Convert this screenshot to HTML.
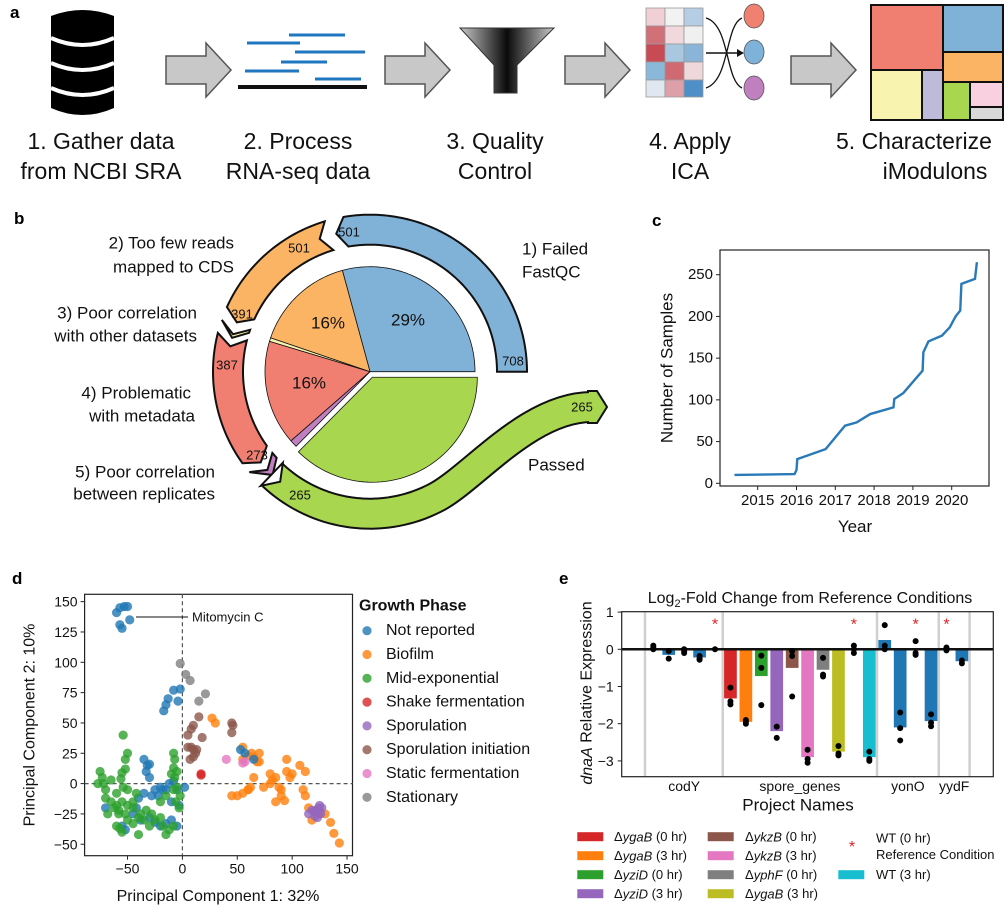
<!DOCTYPE html>
<html><head><meta charset="utf-8"><style>
html,body{margin:0;padding:0;background:#fff;}
svg{display:block;font-family:"Liberation Sans",Arial,sans-serif;}
</style></head><body>
<svg id="fig" width="1007" height="905" viewBox="0 0 1007 905" xmlns="http://www.w3.org/2000/svg">
<defs>
<linearGradient id="fg" x1="0" x2="1" y1="0" y2="0"><stop offset="0" stop-color="#c8c8c8"/><stop offset="0.5" stop-color="#0a0a0a"/><stop offset="1" stop-color="#c8c8c8"/></linearGradient>
</defs>
<g>
<text x="10" y="18" font-size="17" font-weight="bold">a</text>
<g>
<path d="M51 16 Q82.5 4 114 16 L114 108 Q82.5 122 51 108 Z" fill="#000"/>
<path d="M51 38 Q82.5 52 114 38" stroke="#fff" stroke-width="4" fill="none"/>
<path d="M51 63 Q82.5 77 114 63" stroke="#fff" stroke-width="4" fill="none"/>
<path d="M51 88 Q82.5 102 114 88" stroke="#fff" stroke-width="4" fill="none"/>
</g>
<g stroke="#1f77c0" stroke-width="3">
<line x1="289" y1="35" x2="345" y2="35"/><line x1="247" y1="43" x2="300" y2="43"/><line x1="295" y1="52" x2="365" y2="52"/><line x1="281" y1="62" x2="327" y2="62"/><line x1="245" y1="71" x2="299" y2="71"/><line x1="315" y1="79" x2="361" y2="79"/>
<line x1="238" y1="87" x2="367" y2="87" stroke="#111" stroke-width="4"/>
</g>
<polygon points="460,28 554,28 517,65 517,93 494,93 494,65" fill="url(#fg)" stroke="#333" stroke-width="1"/>
<g stroke="#999" stroke-width="0.8">
<rect x="646" y="8" width="19" height="18" fill="#f0d0d4"/><rect x="665" y="8" width="19" height="18" fill="#f2f2f2"/><rect x="684" y="8" width="19" height="18" fill="#b5cde5"/>
<rect x="646" y="26" width="19" height="18" fill="#d27078"/><rect x="665" y="26" width="19" height="18" fill="#f0d8dc"/><rect x="684" y="26" width="19" height="18" fill="#f0f0f0"/>
<rect x="646" y="44" width="19" height="18" fill="#c84a55"/><rect x="665" y="44" width="19" height="18" fill="#a9c8e0"/><rect x="684" y="44" width="19" height="18" fill="#8ab5d8"/>
<rect x="646" y="62" width="19" height="18" fill="#8ab8d8"/><rect x="665" y="62" width="19" height="18" fill="#d06a72"/><rect x="684" y="62" width="19" height="18" fill="#efd8dc"/>
<rect x="646" y="80" width="19" height="17" fill="#dfe8f0"/><rect x="665" y="80" width="19" height="17" fill="#dda0a8"/><rect x="684" y="80" width="19" height="17" fill="#4e8fc8"/>
<path d="M706 18 C730 25 725 80 742 88" stroke="#111" stroke-width="1.3" fill="none"/>
<path d="M706 88 C730 80 725 25 742 18" stroke="#111" stroke-width="1.3" fill="none"/>
<line x1="706" y1="53" x2="740" y2="53" stroke="#111" stroke-width="1.5"/>
<polygon points="744,53 737,49 737,57" fill="#111" stroke="none"/>
<ellipse cx="754" cy="16" rx="10" ry="12" fill="#f08070" stroke="#555"/>
<ellipse cx="754" cy="52" rx="10" ry="12" fill="#7fb2d8" stroke="#555"/>
<ellipse cx="754" cy="88" rx="10" ry="12" fill="#c080c0" stroke="#555"/>
</g>
<g stroke="#111" stroke-width="2">
<rect x="871" y="5" width="72" height="65" fill="#f07f72"/><rect x="943" y="5" width="60" height="47" fill="#80b1d6"/>
<rect x="943" y="52" width="60" height="30" fill="#fbb463"/><rect x="871" y="70" width="51" height="50" fill="#f8f4b0"/>
<rect x="922" y="70" width="21" height="50" fill="#bebad9"/><rect x="943" y="82" width="27" height="38" fill="#a8d64e"/>
<rect x="970" y="82" width="33" height="25" fill="#f8d0e0"/><rect x="970" y="107" width="33" height="13" fill="#d9d9d9"/>
</g>
<g fill="#c8c8c8" stroke="#555" stroke-width="1.5">
<polygon points="166,56 206,56 206,43 231,70 206,97 206,84 166,84"/>
<polygon points="385,56 425,56 425,43 450,70 425,97 425,84 385,84"/>
<polygon points="565,56 605,56 605,43 630,70 605,97 605,84 565,84"/>
<polygon points="791,56 831,56 831,43 856,70 831,97 831,84 791,84"/>
</g>
<g font-size="23" fill="#111" text-anchor="middle">
<text x="101" y="149">1. Gather data</text><text x="101" y="179">from NCBI SRA</text>
<text x="298" y="149">2. Process</text><text x="298" y="179">RNA-seq data</text>
<text x="495" y="149">3. Quality</text><text x="495" y="179">Control</text>
<text x="690" y="149">4. Apply</text><text x="690" y="179">ICA</text>
<text x="836" y="149" text-anchor="start">5. Characterize</text><text x="935" y="179">iModulons</text>
</g>
</g>
<g id="pb">
<text x="14" y="224" font-size="17" font-weight="bold">b</text>
<g font-size="17" fill="#111" dominant-baseline="central">
<text x="234" y="243" text-anchor="end">2) Too few reads</text><text x="234" y="267" text-anchor="end">mapped to CDS</text>
<text x="197" y="313" text-anchor="end">3) Poor correlation</text><text x="197" y="336" text-anchor="end">with other datasets</text>
<text x="191" y="393" text-anchor="end">4) Problematic</text><text x="195" y="416" text-anchor="end">with metadata</text>
<text x="215" y="472" text-anchor="end">5) Poor correlation</text><text x="215" y="494" text-anchor="end">between replicates</text>
<text x="522" y="249">1) Failed</text><text x="522" y="272">FastQC</text>
<text x="528" y="465">Passed</text>
</g>
</g>
<g id="pc">
<text x="652" y="226" font-size="17" font-weight="bold">c</text>
</g>
<g id="pd">
<text x="12" y="584" font-size="17" font-weight="bold">d</text>
</g>
<g id="pe">
<text x="559" y="584" font-size="17" font-weight="bold">e</text>
</g>
</svg>
<script>
const NS='http://www.w3.org/2000/svg';
function mk(tag,attrs,parent){const e=document.createElementNS(NS,tag);for(const k in attrs)e.setAttribute(k,attrs[k]);parent.appendChild(e);return e;}

const qcStages=['failed-fastqc','too-few-reads','poor-correlation-datasets','problematic-metadata','poor-correlation-replicates','passed'];
const qcCounts=[207,110,4,114,8,265];
const qcRemaining=[708,501,391,387,273,265];
const qcPctLabels=['29%','16%','','16%','',''];
const pieColors=['#80b1d6','#fbb463','#f8f4b0','#f07f72','#c080c0','#a8d64e'];

const sampleYears=[2014.4,2015.95,2016.0,2016.02,2016.75,2017.25,2017.55,2017.9,2018.5,2018.52,2018.75,2019.25,2019.27,2019.4,2019.75,2019.95,2020.1,2020.22,2020.25,2020.6,2020.65];
const sampleCounts=[10,11,16,29,41,69,73,83,91,101,108,135,157,170,177,187,200,207,239,245,265];
const yearTicks=[2015,2016,2017,2018,2019,2020];
const sampleTicks=[0,50,100,150,200,250];

const phaseNames=['Not reported','Biofilm','Mid-exponential','Shake fermentation','Sporulation','Sporulation initiation','Static fermentation','Stationary'];
const notReportedX=[-57,-53,-50,-60,-57,-55,-48,-13,-15,-17,-8,-4,-2,-35,-32,-30,-33,-30,-25,-20,-15,-22,-28,-35,-40,-42,-45,-38,-30,-25,-20,-15,-10,-5,-55,-52,-70,-10,-5,-3,2,53,57,65,-18,-12,-8];
const notReportedY=[145,146,146,141,131,128,135,70,65,60,77,68,78,20,15,16,10,5,-5,-3,-5,-10,-10,-8,-12,-20,-25,-30,-28,-32,-35,-33,-30,-35,-35,-38,-20,-15,-5,-18,-3,28,25,20,-5,0,2];
const biofilmX=[27,30,55,60,63,65,68,70,95,107,112,95,98,100,85,80,82,88,90,85,93,110,112,74,65,60,62,55,50,45,70,115,118,125,130,135,138,143,55,60,80,90];
const biofilmY=[54,50,30,23,25,22,18,18,20,15,10,10,5,8,5,8,3,-3,-10,-15,-14,-5,-10,-3,5,-5,-3,-8,-10,-10,25,-20,-30,-25,-25,-32,-41,-49,20,-5,0,-5];
const midExpX=[-54,-50,-52,-52,-55,-56,-54,-50,-75,-73,-77,-72,-70,-65,-60,-65,-62,-60,-58,-55,-58,-52,-50,-60,-57,-55,-45,-40,-38,-40,-35,-30,-25,-20,-18,-15,-12,-8,-8,-7,-8,-10,-5,-7,-5,-2,-3,-6,-42,-45,-70,-68,-15,-20,-8,-28,-33,-45,-50];
const midExpY=[40,25,20,12,9,4,-3,-5,10,5,0,0,-5,3,-8,-15,-20,-18,-22,-15,-25,-25,-30,-35,-37,-40,-33,-28,-25,-42,-30,-35,-30,-28,-35,-42,-38,-35,25,20,13,8,10,5,-3,-10,-20,-15,-8,-15,-12,-25,-10,-15,-5,-25,-22,-20,-18];
const shakeX=[17,17];
const shakeY=[7,8];
const sporX=[115,118,120,122,124,125,126,123,121,125,127];
const sporY=[-25,-22,-23,-22,-20,-18,-25,-28,-27,-22,-20];
const sporInitX=[15,10,8,5,18,45,45,46,8,10,12,7,10,13,5];
const sporInitY=[55,48,45,40,38,50,42,48,30,28,25,20,22,28,30];
const staticX=[40,55,57];
const staticY=[20,17,18];
const stationaryX=[-2,3,7,15,21];
const stationaryY=[99,90,85,68,74];
const pcXTicks=[-50,0,50,100,150];
const pcYTicks=[-50,-25,0,25,50,75,100,125,150];

const projectNames=['codY','spore_genes','yonO','yydF'];
const projectCenters=[2,9.5,16.5,19.5];
const barValues=[0.03,-0.15,-0.02,-0.22,null,-1.32,-1.95,-0.72,-2.2,-0.5,-2.9,-0.55,-2.75,null,-2.9,0.25,-2.1,null,-1.93,null,-0.32];
const replicateValues=[[0.1,0.0,0.05],[-0.05,-0.25],[0.0,-0.05,-0.1],[-0.18,-0.25,-0.28],[0.0],[-1.03,-1.4,-1.48],[-1.9,-1.95,-2.0],[-0.17,-0.5,-1.5],[-2.08,-2.38],[-0.05,-0.18,-1.27],[-2.7,-2.95,-3.05],[-0.23,-0.68,-0.73],[-2.6,-2.8,-2.85],[0.1,0.0,-0.1],[-2.75,-2.95,-3.0],[0.65,0.1,0.0],[-1.7,-2.12,-2.45],[0.22,-0.1,-0.15],[-1.75,-1.97,-2.07],[0.05,0.0,-0.03],[-0.3,-0.38]];
const starSlots=[4,13,17,19];
const starValue=0.7;
const exprTicks=[1,0,-1,-2,-3];
const separatorSlots=[-0.54,4.5,14.5,18.5,20.5];

const fig=document.getElementById('fig');

(function(){
  const g=document.getElementById('pb');
  const cx=370,cy=371.7,R=105;
  const P=(a,r)=>[cx+r*Math.cos(a*Math.PI/180),cy-r*Math.sin(a*Math.PI/180)];
  const total=qcCounts.reduce((s,v)=>s+v,0);
  let acc=0;const bounds=[];
  qcCounts.forEach(v=>{const a0=acc/total*360;acc+=v;bounds.push([a0,acc/total*360]);});
  bounds.forEach((b,i)=>{
    const [a0,a1]=b;const mid=(a0+a1)/2;
    const off=i===5?6:0;const ox=off*Math.cos(mid*Math.PI/180),oy=-off*Math.sin(mid*Math.PI/180);
    let d=`M${cx+ox} ${cy+oy}`;
    for(let a=a0;a<=a1+0.001;a+=Math.max(0.2,(a1-a0)/60)){const p=P(a,R);d+=` L${p[0]+ox} ${p[1]+oy}`;}
    const pe=P(a1,R);d+=` L${pe[0]+ox} ${pe[1]+oy} Z`;
    const s=mk('path',{d:d,fill:pieColors[i],stroke:'#111','stroke-width':0.8},g);
    
    
  });
  const pctPos=[[408,320],[328,323],null,[309,383],null,[398,433]];
  qcPctLabels.forEach((t,i)=>{if(!t)return;
    const tx=mk('text',{x:pctPos[i][0],y:pctPos[i][1],'font-size':17,'text-anchor':'middle','dominant-baseline':'central',fill:'#111'},g);
    tx.textContent=t;
    
    
  });
  const ri=127,ro=157,rm=142,dl=4,gap=1.5;
  for(let i=0;i<5;i++){
    let a0=bounds[i][0]+(i?gap:0),a1=bounds[i][1]-gap;
    if(i===2){a0=bounds[i][0]+1;a1=bounds[i][1]+1.5;}
    if(i===3){a0=bounds[i][0]+2.5;}
    let pts=[];
    for(let a=a0;a<=a1-dl+0.01;a+=1)pts.push(P(a,ro));
    pts.push(P(a1-dl,ro));pts.push(P(a1,rm));pts.push(P(a1-dl,ri));
    for(let a=a1-dl;a>=a0;a-=1)pts.push(P(a,ri));
    pts.push(P(a0,ri));
    if(i>0)pts.push(P(a0+dl,rm));
    const band=mk('polygon',{points:pts.map(p=>p.join(',')).join(' '),fill:pieColors[i],stroke:'#111','stroke-width':2,'stroke-linejoin':'miter'},g);
    
    
  }
  const gs=bounds[5][0]+gap;
  let d='';const s0=P(gs,rm);d=`M${s0[0]} ${s0[1]}`;
  for(let a=gs;a<=300;a+=2){const p=P(a,rm);d+=` L${p[0]} ${p[1]}`;}
  const e0=P(300,rm);
  d+=` C${e0[0]+35} ${e0[1]-20} 530 407 592 407`;
  const gOut=mk('path',{d:d,fill:'none',stroke:'#111','stroke-width':32},g);
  
  
  const head=mk('polygon',{points:'588,391 597,391 607,407 597,423 588,423',fill:pieColors[5],stroke:'#111','stroke-width':2},g);
  
  
  const gIn=mk('path',{d:d,fill:'none',stroke:pieColors[5],'stroke-width':28},g);
  
  
  const notch=mk('polygon',{points:[P(gs-0.5,ro+1),P(gs+dl,rm),P(gs-0.5,ri-1)].map(p=>p.join(',')).join(' '),fill:'#fff',stroke:'#111','stroke-width':2},g);
  
  
  const numPos=[[[349,232],[513,361]],[[299,248],[242,314]],[],[[227,365],[257,455]],[],[[300,495],[582,407]]];
  const numVals=[[qcRemaining[1],qcRemaining[0]],[qcRemaining[1],qcRemaining[2]],[],[qcRemaining[3],qcRemaining[4]],[],[qcRemaining[5],qcRemaining[5]]];
  numPos.forEach((arr,i)=>arr.forEach((p,j)=>{
    const t=mk('text',{x:p[0],y:p[1],'font-size':13,'text-anchor':'middle','dominant-baseline':'central',fill:'#111'},g);
    t.textContent=numVals[i][j];
    
    
  }));
})();

(function(){
  const g=document.getElementById('pc');
  const L=720,Rr=989,T=250,B=486;
  const xC=y=>757.7+(y-2015)*38.8, yC=v=>483.3-v*0.8344;
  const box=mk('rect',{x:L,y:T,width:Rr-L,height:B-T,fill:'none',stroke:'#222','stroke-width':1.2},g);
  
  
  yearTicks.forEach(y=>{
    const tk=mk('line',{x1:xC(y),x2:xC(y),y1:B,y2:B+4,stroke:'#222'},g);
    
    
    const t=mk('text',{x:xC(y),y:B+19,'font-size':15,'text-anchor':'middle',fill:'#111'},g);t.textContent=y;
    
    
  });
  sampleTicks.forEach(v=>{
    const tk=mk('line',{x1:L-4,x2:L,y1:yC(v),y2:yC(v),stroke:'#222'},g);
    
    
    const t=mk('text',{x:L-7,y:yC(v),'font-size':15,'text-anchor':'end','dominant-baseline':'central',fill:'#111'},g);t.textContent=v;
    
    
  });
  const pl=mk('polyline',{points:sampleYears.map((y,i)=>xC(y)+','+yC(sampleCounts[i])).join(' '),fill:'none',stroke:'#2a7ab8','stroke-width':2.4},g);
  
  
  const xl=mk('text',{x:855,y:532,'font-size':17,'text-anchor':'middle',fill:'#111'},g);xl.textContent='Year';
  
  
  const yl=mk('text',{x:0,y:0,'font-size':17,'text-anchor':'middle','dominant-baseline':'central',fill:'#111',transform:'translate(667,368) rotate(-90)'},g);yl.textContent='Number of Samples';
  
  
})();

(function(){
  const g=document.getElementById('pd');
  const L=84.6,Rr=352.5,T=594.3,B=855.7;
  const xD=v=>182.4+v*1.0975, yD=v=>783.6-v*1.213;
  const box=mk('rect',{x:L,y:T,width:Rr-L,height:B-T,fill:'none',stroke:'#222','stroke-width':1.2},g);
  
  
  const vl=mk('line',{x1:xD(0),x2:xD(0),y1:T,y2:B,stroke:'#555','stroke-dasharray':'4,3','stroke-width':1.2},g);
  
  
  const hl=mk('line',{x1:L,x2:Rr,y1:yD(0),y2:yD(0),stroke:'#555','stroke-dasharray':'4,3','stroke-width':1.2},g);
  
  
  pcXTicks.forEach(v=>{
    const tk=mk('line',{x1:xD(v),x2:xD(v),y1:B,y2:B+4,stroke:'#222'},g);
    
    
    const t=mk('text',{x:xD(v),y:B+18,'font-size':14,'text-anchor':'middle',fill:'#111'},g);t.textContent=v<0?'\u2212'+(-v):v;
    
    
  });
  pcYTicks.forEach(v=>{
    const tk=mk('line',{x1:L-4,x2:L,y1:yD(v),y2:yD(v),stroke:'#222'},g);
    
    
    const t=mk('text',{x:L-7,y:yD(v),'font-size':14,'text-anchor':'end','dominant-baseline':'central',fill:'#111'},g);t.textContent=v<0?'\u2212'+(-v):v;
    
    
  });
  const colors=['#1f77b4','#ff7f0e','#2ca02c','#d62728','#9467bd','#8c564b','#e377c2','#7f7f7f'];
  const groups=[[notReportedX,notReportedY],[biofilmX,biofilmY],[midExpX,midExpY],[shakeX,shakeY],[sporX,sporY],[sporInitX,sporInitY],[staticX,staticY],[stationaryX,stationaryY]];
  const order=[1,0,2,5,7,6,3,4];
  order.forEach(gi=>{
    const [xs,ys]=groups[gi];
    xs.forEach((x,i)=>{
      const c=mk('circle',{cx:xD(x),cy:yD(ys[i]),r:4.6,fill:colors[gi],'fill-opacity':0.8},g);
      
      
    });
  });
  const ml=mk('line',{x1:136,x2:188,y1:617,y2:617,stroke:'#111','stroke-width':1},g);
  
  
  const mt=mk('text',{x:192,y:617,'font-size':13,'dominant-baseline':'central',fill:'#111'},g);mt.textContent='Mitomycin C';
  
  
  const lt=mk('text',{x:359,y:606,'font-size':16,'font-weight':'bold','dominant-baseline':'central',fill:'#111'},g);lt.textContent='Growth Phase';
  
  
  phaseNames.forEach((n,i)=>{
    const y=630.7+i*23.8;
    const c=mk('circle',{cx:367,cy:y,r:4.6,fill:colors[i],'fill-opacity':0.8},g);
    
    
    const t=mk('text',{x:386,y:y,'font-size':16,'dominant-baseline':'central',fill:'#111'},g);t.textContent=n;
    
    
  });
  const xl=mk('text',{x:218,y:901,'font-size':16,'text-anchor':'middle',fill:'#111'},g);xl.textContent='Principal Component 1: 32%';
  
  
  const yl=mk('text',{x:0,y:0,'font-size':16,'text-anchor':'middle','dominant-baseline':'central',fill:'#111',transform:'translate(30,725) rotate(-90)'},g);yl.textContent='Principal Component 2: 10%';
  
  
})();

(function(){
  const g=document.getElementById('pe');
  const L=621.7,Rr=993.3,T=611.7,B=776.7;
  const xE=i=>653.3+i*15.43, yE=v=>649.3-v*37.2;
  separatorSlots.forEach(s=>{
    const l=mk('line',{x1:xE(s),x2:xE(s),y1:T,y2:B,stroke:'#d0d0d0','stroke-width':2.5},g);
    
    
  });
  const barColors=['#1f77b4','#1f77b4','#1f77b4','#1f77b4',null,'#d62728','#ff7f0e','#2ca02c','#9467bd','#8c564b','#e377c2','#7f7f7f','#bcbd22',null,'#17becf','#1f77b4','#1f77b4',null,'#1f77b4',null,'#1f77b4'];
  barValues.forEach((v,i)=>{
    if(v===null)return;
    const y0=yE(0),y1=yE(v);
    const r=mk('rect',{x:xE(i)-6.35,y:Math.min(y0,y1),width:12.7,height:Math.abs(y1-y0),fill:barColors[i]},g);
    
    
  });
  const zl=mk('line',{x1:L,x2:Rr,y1:yE(0),y2:yE(0),stroke:'#111','stroke-width':2.5},g);
  
  
  replicateValues.forEach((arr,i)=>arr.forEach(v=>{
    const c=mk('circle',{cx:xE(i),cy:yE(v),r:3,fill:'#000'},g);
    
    
  }));
  starSlots.forEach(s=>{
    const t=mk('text',{x:xE(s),y:yE(starValue)+6,'font-size':16,'text-anchor':'middle',fill:'#e02020'},g);t.textContent='*';
    
    
  });
  const box=mk('rect',{x:L,y:T,width:Rr-L,height:B-T,fill:'none',stroke:'#222','stroke-width':1.2},g);
  
  
  exprTicks.forEach(v=>{
    const tk=mk('line',{x1:L-4,x2:L,y1:yE(v),y2:yE(v),stroke:'#222'},g);
    
    
    const t=mk('text',{x:L-8,y:yE(v),'font-size':14,'text-anchor':'end','dominant-baseline':'central',fill:'#111'},g);t.textContent=v<0?'\u2212'+(-v):v;
    
    
  });
  projectNames.forEach((n,i)=>{
    const t=mk('text',{x:xE(projectCenters[i]),y:786,'font-size':14,'text-anchor':'middle','dominant-baseline':'central',fill:'#111'},g);t.textContent=n;
    
    
  });
  const ti=mk('text',{x:810,y:603,'font-size':16,'text-anchor':'middle',fill:'#111'},g);
  ti.innerHTML='Log<tspan font-size="11" dy="4">2</tspan><tspan dy="-4">-Fold Change from Reference Conditions</tspan>';
  
  
  const xl=mk('text',{x:798,y:805,'font-size':17,'text-anchor':'middle','dominant-baseline':'central',fill:'#111'},g);xl.textContent='Project Names';
  
  
  const yl=mk('text',{x:0,y:0,'font-size':16,'text-anchor':'middle','dominant-baseline':'central',fill:'#111',transform:'translate(587,693) rotate(-90)'},g);
  yl.innerHTML='<tspan font-style="italic">dnaA</tspan> Relative Expression';
  
  
  const legGenes=[['ygaB','0'],['ygaB','3'],['yziD','0'],['yziD','3'],['ykzB','0'],['ykzB','3'],['yphF','0'],['ygaB','3']];
  const legColors=['#d62728','#ff7f0e','#2ca02c','#9467bd','#8c564b','#e377c2','#7f7f7f','#bcbd22'];
  legGenes.forEach((lg,i)=>{
    const col=Math.floor(i/4),row=i%4;
    const y=836.7+row*19;
    const sx=col?707.7:577.3, tx=col?745:614;
    const r=mk('rect',{x:sx,y:y-4.5,width:26,height:9,fill:legColors[i]},g);
    
    
    const t=mk('text',{x:tx,y:y,'font-size':13,'dominant-baseline':'central',fill:'#111'},g);
    t.innerHTML='\u0394<tspan font-style="italic">'+lg[0]+'</tspan> ('+lg[1]+' hr)';
    
    
  });
  const st=mk('text',{x:852,y:852,'font-size':16,'text-anchor':'middle',fill:'#e02020'},g);st.textContent='*';
  
  
  const w0=mk('text',{x:876,y:838,'font-size':13,'dominant-baseline':'central',fill:'#111'},g);w0.textContent='WT (0 hr)';
  
  
  const rc=mk('text',{x:876,y:854.3,'font-size':13,'dominant-baseline':'central',fill:'#111'},g);rc.textContent='Reference Condition';
  
  
  const cs=mk('rect',{x:838.3,y:870.2,width:26,height:9,fill:'#17becf'},g);
  
  
  const w3=mk('text',{x:876,y:874.7,'font-size':13,'dominant-baseline':'central',fill:'#111'},g);w3.textContent='WT (3 hr)';
  
  
})();
</script>
</body></html>
